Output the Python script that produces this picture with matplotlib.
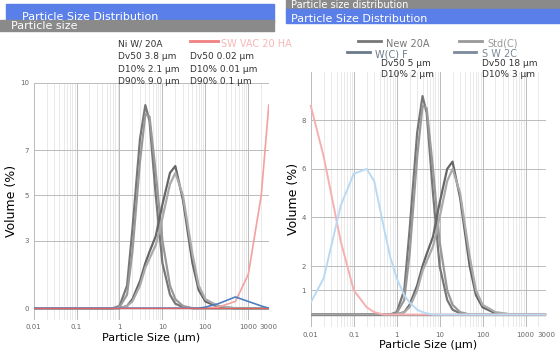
import matplotlib.pyplot as plt
import numpy as np
from matplotlib.patches import Rectangle

# particle sizes (um)
sizes = [0.01, 0.02, 0.05, 0.1, 0.2, 0.3, 0.5, 0.7, 1, 1.5, 2, 3, 4, 5, 7,
         10, 15, 20, 30, 50, 70, 100, 200, 500, 1000, 2000, 3000]

# gray series (volume %)
new_20a = [0, 0, 0, 0, 0, 0, 0, 0, 0.1, 1.0, 3.5, 7.5, 9.0, 8.3, 5.0,
           2.0, 0.6, 0.2, 0.05, 0, 0, 0, 0, 0, 0, 0, 0]
std_c = [0, 0, 0, 0, 0, 0, 0, 0, 0.05, 0.6, 2.5, 6.5, 8.6, 8.5, 6.0,
         3.0, 1.0, 0.4, 0.1, 0, 0, 0, 0, 0, 0, 0, 0]
w_c_f = [0, 0, 0, 0, 0, 0, 0, 0, 0, 0.1, 0.4, 1.2, 2.0, 2.5, 3.2,
         4.6, 6.0, 6.3, 4.8, 2.0, 0.8, 0.3, 0.05, 0, 0, 0, 0]
s_w_2c = [0, 0, 0, 0, 0, 0, 0, 0, 0, 0.1, 0.3, 1.0, 1.8, 2.2, 2.8,
          4.0, 5.5, 6.0, 5.0, 2.4, 1.0, 0.4, 0.1, 0, 0, 0, 0]

# coloured series
sw_vac_left = [0, 0, 0, 0, 0, 0, 0, 0, 0, 0, 0, 0, 0, 0, 0,
               0, 0, 0, 0, 0, 0, 0, 0.05, 0.3, 1.5, 5.0, 9.0]
blue_left = [0, 0, 0, 0, 0, 0, 0, 0, 0, 0, 0, 0, 0, 0, 0,
             0, 0, 0, 0, 0, 0, 0.05, 0.2, 0.5, 0.3, 0.1, 0]
sw_vac_right = [8.6, 6.5, 3.0, 1.0, 0.3, 0.1, 0, 0, 0, 0, 0, 0, 0, 0, 0,
                0, 0, 0, 0, 0, 0, 0, 0, 0, 0, 0, 0]
blue_right = [0.5, 1.5, 4.5, 5.8, 6.0, 5.5, 3.6, 2.4, 1.5, 0.8, 0.5, 0.2, 0.1, 0.05, 0,
              0, 0, 0, 0, 0, 0, 0, 0, 0, 0, 0, 0]

xticks = [0.01, 0.1, 1, 10, 100, 1000, 3000]
xticklabels = ['0.01', '0.1', '1', '10', '100', '1000', '3000']

fig = plt.figure(figsize=(5.6, 3.59), dpi=100)

# title bars
fig.patches.append(Rectangle((0.01, 0.94), 0.48, 0.05, transform=fig.transFigure,
                             color='#5b7fe8', zorder=0))
fig.patches.append(Rectangle((0.0, 0.915), 0.49, 0.03, transform=fig.transFigure,
                             color='#8a8a8a', zorder=0))
fig.patches.append(Rectangle((0.51, 0.975), 0.49, 0.025, transform=fig.transFigure,
                             color='#8a8a8a', zorder=0))
fig.patches.append(Rectangle((0.51, 0.935), 0.49, 0.04, transform=fig.transFigure,
                             color='#5b7fe8', zorder=0))
fig.text(0.04, 0.945, 'Particle Size Distribution', color='white', fontsize=8)
fig.text(0.02, 0.918, 'Particle size', color='white', fontsize=8)
fig.text(0.52, 0.977, 'Particle size distribution', color='white', fontsize=7)
fig.text(0.52, 0.940, 'Particle Size Distribution', color='white', fontsize=8)

grays = ['#777777', '#999999', '#666666', '#aaaaaa']
gseries = [new_20a, std_c, w_c_f, s_w_2c]

axL = fig.add_axes([0.06, 0.11, 0.42, 0.66])
axR = fig.add_axes([0.555, 0.09, 0.42, 0.71])

for ax in (axL, axR):
    for s, c in zip(gseries, grays):
        ax.plot(sizes, s, color=c, lw=1.6)
    ax.set_xscale('log')
    ax.set_xlim(0.01, 3000)
    ax.set_ylim(-0.5, 10)
    ax.set_xticks(xticks)
    ax.set_xticklabels(xticklabels, fontsize=5, color='#666666')
    ax.grid(True, which='major', color='#bbbbbb', lw=0.7)
    ax.grid(True, which='minor', axis='x', color='#e0e0e0', lw=0.5)
    ax.tick_params(axis='y', labelsize=5, colors='#666666', length=0)
    ax.tick_params(axis='x', which='both', length=0)
    for sp in ax.spines.values():
        sp.set_visible(False)
    ax.axhline(0, color='#888888', lw=1)
    ax.set_xlabel('Particle Size (\u00b5m)', fontsize=8, labelpad=2)

axL.plot(sizes, sw_vac_left, color='#f4a0a0', lw=1.2)
axL.plot(sizes, blue_left, color='#4d7fc0', lw=1.2)
axL.axhline(0, color='#e06060', lw=0.8)
axL.set_yticks([0, 3, 5, 7, 10])
axL.set_ylabel('Volume (%)', fontsize=9, labelpad=1)

axR.plot(sizes, sw_vac_right, color='#f6b0b0', lw=1.4, clip_on=False)
axR.plot(sizes, blue_right, color='#b8daf4', lw=1.4)
axR.set_yticks([1, 2, 4, 6, 8])
axR.set_ylabel('Volume (%)', fontsize=9, labelpad=1)

# legends as text blocks
fig.text(0.21, 0.87, 'Ni W/ 20A', fontsize=6.5, color='#333333')
fig.text(0.21, 0.835, 'Dv50 3.8 \u00b5m', fontsize=6.5, color='#333333')
fig.text(0.21, 0.80, 'D10% 2.1 \u00b5m', fontsize=6.5, color='#333333')
fig.text(0.21, 0.765, 'D90% 9.0 \u00b5m', fontsize=6.5, color='#333333')
fig.lines.append(plt.Line2D([0.34, 0.39], [0.885, 0.885], transform=fig.transFigure,
                            color='#f08080', lw=2))
fig.text(0.395, 0.87, 'SW VAC 20 HA', fontsize=7, color='#f6b8b8')
fig.text(0.34, 0.835, 'Dv50 0.02 \u00b5m', fontsize=6.5, color='#333333')
fig.text(0.34, 0.80, 'D10% 0.01 \u00b5m', fontsize=6.5, color='#333333')
fig.text(0.34, 0.765, 'D90% 0.1 \u00b5m', fontsize=6.5, color='#333333')

for (x0, y0, name, col) in [(0.69, 0.885, 'New 20A', '#777777'),
                             (0.87, 0.885, 'Std(C)', '#999999'),
                             (0.67, 0.855, 'W(C) F', '#6a7a8a'),
                             (0.86, 0.855, 'S W 2C', '#7a8a9a')]:
    fig.lines.append(plt.Line2D([x0 - 0.05, x0 - 0.01], [y0, y0],
                                transform=fig.transFigure, color=col, lw=2))
    fig.text(x0, y0 - 0.015, name, fontsize=7, color=col)
fig.text(0.68, 0.815, 'Dv50 5 \u00b5m', fontsize=6.5, color='#333333')
fig.text(0.86, 0.815, 'Dv50 18 \u00b5m', fontsize=6.5, color='#333333')
fig.text(0.68, 0.785, 'D10% 2 \u00b5m', fontsize=6.5, color='#333333')
fig.text(0.86, 0.785, 'D10% 3 \u00b5m', fontsize=6.5, color='#333333')

plt.savefig('out.png', dpi=100)
